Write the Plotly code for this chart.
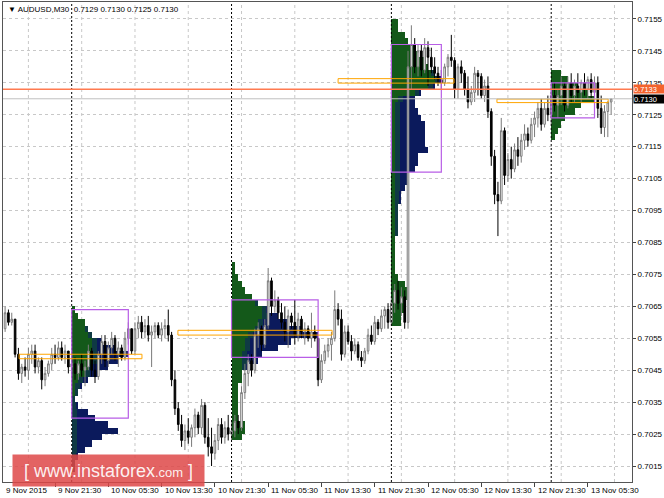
import plotly.graph_objects as go

PIP = 0.0001
FONT = "Liberation Sans, Arial, sans-serif"

# ---------------- price data (pips, x 0.0001), AUDUSD M30 ----------------
# bar index 0 = 10 Nov 2015 00:00; first visible bar is index -20
first_bar = -20
opens = [7058,7063,7060,7061,7050,7044,7046,7045,7050,7051,7046,7048,7042,7044,7047,7050,7049,7052,7049,7051,
         7046,7047,7044,7047,7045,7046,7051,7045,7043,7050,
         7054,7048,7052,7055,7050,7052,7049,7055,7058,7051,
         7058,7060,7057,7059,7056,7057,7059,7056,7058,7059,
         7056,7042,7033,7028,7023,7026,7024,7027,7031,7027,
         7034,7024,7021,7019,7023,7028,7024,7027,7025,7026,
         7029,7027,7038,7044,7048,7045,7056,7058,7053,7059,
         7073,7065,7067,7063,7060,7057,7062,7060,7056,7061,
         7057,7058,7055,7057,7055,7042,7048,7051,7053,7055,
         7064,7061,7050,7057,7054,7051,7053,7049,7048,7051,
         7056,7054,7060,7058,7062,7064,7060,7066,7070,7066,
         7068,7060,7140,7147,7140,7145,7139,7146,7143,7140,
         7138,7136,7135,7140,7143,7142,7133,7140,7138,7133,
         7129,7132,7138,7137,7131,7134,7126,7112,7100,7098,
         7120,7106,7111,7108,7114,7112,7117,7119,7117,7122,
         7124,7127,7122,7127,7125,7131,7128,7131,7134,7128,
         7135,7131,7134,7132,7135,7133,7136,7132,7135,7127,
         7121,7126,7129]
highs = [7065,7064,7063,7061,7052,7047,7049,7052,7053,7053,7049,7049,7046,7048,7052,7053,7054,7054,7053,7051,
         7051,7049,7048,7050,7048,7053,7052,7048,7051,7056,
         7056,7054,7057,7056,7054,7053,7057,7060,7058,7060,
         7062,7062,7061,7062,7059,7060,7060,7060,7061,7064,
         7057,7045,7035,7031,7028,7030,7028,7033,7032,7036,
         7035,7030,7027,7025,7030,7030,7029,7031,7029,7031,
         7031,7040,7047,7050,7050,7058,7060,7059,7061,7077,
         7074,7070,7068,7066,7065,7064,7063,7067,7063,7062,
         7060,7059,7063,7059,7055,7050,7053,7055,7057,7070,
         7066,7064,7059,7059,7056,7055,7054,7051,7052,7058,
         7059,7062,7061,7064,7065,7066,7068,7072,7073,7071,
         7070,7145,7153,7149,7147,7147,7149,7148,7146,7143,
         7140,7139,7141,7144,7150,7143,7141,7142,7139,7137,
         7134,7140,7139,7138,7136,7137,7127,7114,7104,7124,
         7121,7113,7115,7116,7118,7119,7122,7121,7124,7126,
         7129,7130,7129,7131,7134,7135,7133,7137,7135,7137,
         7138,7136,7138,7136,7138,7137,7138,7137,7137,7131,
         7128,7129,7130]
lows = [7057,7059,7059,7049,7042,7041,7043,7042,7047,7044,7044,7039,7040,7043,7045,7047,7048,7048,7047,7044,
        7043,7042,7042,7043,7040,7045,7043,7041,7042,7047,
        7046,7046,7050,7048,7046,7048,7048,7053,7050,7050,
        7055,7055,7055,7054,7046,7055,7055,7054,7055,7054,
        7040,7031,7026,7021,7020,7022,7021,7024,7025,7025,
        7022,7018,7015,7017,7020,7022,7022,7023,7023,7024,
        7025,7026,7036,7040,7043,7044,7052,7051,7052,7058,
        7062,7063,7061,7058,7054,7052,7058,7053,7054,7055,
        7053,7054,7052,7054,7040,7041,7047,7049,7048,7054,
        7059,7048,7049,7053,7048,7050,7048,7046,7047,7050,
        7053,7053,7056,7057,7058,7058,7059,7063,7064,7062,
        7058,7058,7133,7138,7137,7137,7138,7134,7138,7136,
        7134,7133,7134,7137,7140,7130,7130,7135,7131,7127,
        7128,7129,7131,7130,7129,7124,7109,7097,7087,7097,
        7103,7104,7105,7107,7109,7110,7114,7115,7116,7118,
        7121,7120,7121,7123,7122,7126,7124,7128,7126,7127,
        7129,7129,7130,7129,7131,7130,7130,7129,7124,7119,
        7118,7118,7125]
closes = [7063,7060,7061,7050,7044,7046,7045,7050,7051,7046,7048,7042,7044,7047,7050,7049,7052,7049,7051,7046,
          7047,7044,7047,7045,7046,7051,7045,7043,7050,7054,
          7048,7052,7055,7050,7052,7049,7055,7058,7051,7058,
          7060,7057,7059,7056,7057,7059,7056,7058,7059,7056,
          7042,7033,7028,7023,7026,7024,7027,7031,7027,7034,
          7024,7021,7019,7023,7028,7024,7027,7025,7026,7029,
          7027,7038,7044,7048,7045,7056,7058,7053,7059,7073,
          7065,7067,7063,7060,7057,7062,7060,7056,7061,7057,
          7058,7055,7057,7055,7042,7048,7051,7053,7055,7064,
          7061,7050,7057,7054,7051,7053,7049,7048,7051,7056,
          7054,7060,7058,7062,7064,7060,7066,7070,7066,7068,
          7060,7140,7147,7140,7145,7139,7146,7143,7140,7138,
          7136,7135,7140,7143,7142,7133,7140,7138,7133,7129,
          7132,7138,7137,7131,7134,7126,7112,7100,7098,7120,
          7106,7111,7108,7114,7112,7117,7119,7117,7122,7124,
          7127,7122,7127,7125,7131,7128,7131,7134,7128,7135,
          7131,7134,7132,7135,7133,7136,7132,7135,7127,7121,
          7126,7129,7130]
spread_pips = 3

# ---------------- time axis ----------------
x_range = [-20.63, 168.26]
label_index = [-21, -5, 11, 27, 43, 59, 75, 91, 107, 123, 139, 155]
label_text = ["9 Nov 2015", "9 Nov 21:30", "10 Nov 05:30", "10 Nov 13:30", "10 Nov 21:30",
              "11 Nov 05:30", "11 Nov 13:30", "11 Nov 21:30", "12 Nov 05:30", "12 Nov 13:30",
              "12 Nov 21:30", "13 Nov 05:30"]
grid_index = [-13, 3, 19, 35, 51, 67, 83, 99, 115, 131, 147, 163]
day_start_index = [0, 48, 96, 144]
price_ticks = [0.7015, 0.7025, 0.7035, 0.7045, 0.7055, 0.7065, 0.7075, 0.7085,
               0.7095, 0.7105, 0.7115, 0.7125, 0.7135, 0.7145, 0.7155]

# ---------------- daily market profiles (TPO counts, 2-pip rows) ----------------
profile_top = [7064, 7078, 7154, 7138]
row_pips = 2
profile_counts = [
    [1,2,4,5,6,9,13,17,14,11,8,5,3,2,1,2,5,7,11,14,9,6,4,2,1,1],
    [1,1,2,3,4,6,8,11,14,17,21,26,18,14,9,8,5,3,3,2,2,2,2,2,2,4,4,3],
    [2,2,4,5,7,8,10,11,13,15,13,9,7,7,8,9,10,10,10,10,11,8,8,7,5,5,4,3,3,2,
     2,2,2,2,1,1,1,1,1,1,2,4,5,5,4,4,3,3],
    [3,5,8,11,13,9,7,4,3,2,1],
]
profile_early = [
    [1,2,4,4,5,6,6,6,6,5,4,2,1,1,0,0,0,0,0,0,0,0,0,0,0,0],
    [1,1,2,3,4,6,7,9,9,8,7,5,4,4,3,3,3,3,3,2,2,2,2,2,2,4,4,3],
    [2,2,4,5,7,8,10,11,12,13,11,7,2,1,1,1,1,1,1,1,1,1,1,1,1,1,1,1,1,1,
     1,1,1,1,1,1,1,1,1,1,2,4,5,5,4,4,3,3],
    [3,5,8,11,13,9,7,4,3,2,1],
]
value_area = [(0.7030, 0.7064), (0.7049, 0.7067), (0.7107, 0.7147), (0.7124, 0.7135)]
poc_box_x = [(-15.8, 21.1), (31.9, 78.2), (80.0, 114.8), (127.7, 161.1)]
poc_box_y = [(0.70486, 0.70500), (0.70560, 0.70575), (0.71349, 0.71363), (0.71288, 0.71299)]

GREEN = "#14591a"
BLEND = "#0f3a44"
NAVY = "#0b1a5c"
BLEND_W = 1.5

fig = go.Figure()

for p in range(len(profile_top)):
    start = day_start_index[p]
    cnt = profile_counts[p]
    early = profile_early[p]
    levels = [(profile_top[p] - row_pips * k) * PIP for k in range(len(cnt))]
    g = early
    b = [min(BLEND_W, w - e) for w, e in zip(cnt, early)]
    n = [max(0, w - e - BLEND_W) for w, e in zip(cnt, early)]
    common = dict(orientation="h", y=levels, width=row_pips * PIP, hoverinfo="skip",
                  showlegend=False, marker_line_width=0)
    fig.add_trace(go.Bar(x=g, base=[start] * len(cnt), marker_color=GREEN, **common))
    fig.add_trace(go.Bar(x=b, base=[start + e for e in early], marker_color=BLEND, **common))
    fig.add_trace(go.Bar(x=n, base=[start + e + BLEND_W for e in early], marker_color=NAVY, **common))

bar_index = list(range(first_bar, first_bar + len(closes)))
fig.add_trace(go.Candlestick(
    x=bar_index,
    open=[v * PIP for v in opens], high=[v * PIP for v in highs],
    low=[v * PIP for v in lows], close=[v * PIP for v in closes],
    increasing=dict(line=dict(color="#7a7a7a", width=1), fillcolor="#ffffff"),
    decreasing=dict(line=dict(color="#000000", width=1), fillcolor="#000000"),
    whiskerwidth=0, hoverinfo="skip", showlegend=False))

shapes = []
for gi in grid_index:
    shapes.append(dict(type="line", xref="x", yref="paper", x0=gi, x1=gi, y0=0, y1=1,
                       line=dict(color="#c8c8c8", width=1, dash="3px,3px"), layer="below"))
for d in day_start_index:
    shapes.append(dict(type="line", xref="x", yref="paper", x0=d, x1=d, y0=0, y1=1,
                       line=dict(color="#000000", width=1, dash="2px,2px"), layer="above"))
for p, (lo, hi) in enumerate(value_area):
    s = day_start_index[p]
    shapes.append(dict(type="rect", xref="x", yref="y", x0=s, x1=s + max(profile_counts[p]),
                       y0=lo, y1=hi, line=dict(color="#b85ee6", width=1.2), layer="above"))
for (x0, x1), (y0, y1) in zip(poc_box_x, poc_box_y):
    shapes.append(dict(type="rect", xref="x", yref="y", x0=x0, x1=x1, y0=y0, y1=y1,
                       line=dict(color="#ffa500", width=1), layer="above"))
bid = closes[-1] * PIP
ask = (closes[-1] + spread_pips) * PIP
shapes.append(dict(type="line", xref="paper", yref="y", x0=0, x1=1, y0=bid, y1=bid,
                   line=dict(color="#c0c0c0", width=1), layer="above"))
shapes.append(dict(type="line", xref="paper", yref="y", x0=0, x1=1, y0=ask, y1=ask,
                   line=dict(color="#ff7a50", width=1.5), layer="above"))

annotations = []
for xi, t in zip(label_index, label_text):
    annotations.append(dict(x=max(xi, x_range[0]), xref="x", y=0, yref="paper", yshift=-8,
                            xshift=1, text=t, showarrow=False, xanchor="left", yanchor="middle",
                            font=dict(family=FONT, size=8, color="#000000")))
annotations.append(dict(x=1, xref="paper", y=ask, yref="y", xanchor="left", yanchor="middle",
                        xshift=1, yshift=0.5, text="%.4f" % ask, showarrow=False,
                        bgcolor="#f4622c", width=30, height=8, borderpad=0, align="left",
                        font=dict(family=FONT, size=7.5, color="#ffffff")))
annotations.append(dict(x=1, xref="paper", y=bid, yref="y", xanchor="left", yanchor="middle",
                        xshift=1, yshift=-0.5, text="%.4f" % bid, showarrow=False,
                        bgcolor="#000000", width=30, height=8, borderpad=0, align="left",
                        font=dict(family=FONT, size=7.5, color="#ffffff")))
last = "%.4f %.4f %.4f %.4f" % (opens[-1] * PIP, highs[-1] * PIP, lows[-1] * PIP, closes[-1] * PIP)
annotations.append(dict(x=0.004, xref="paper", y=0.985, yref="paper", xanchor="left",
                        yanchor="middle", showarrow=False,
                        text="\u25BC AUDUSD,M30  " + last,
                        font=dict(family=FONT, size=8, color="#000000")))
annotations.append(dict(x=0.1677, xref="paper", y=0.024, yref="paper", xanchor="center",
                        yanchor="middle", showarrow=False, width=189, height=29,
                        bgcolor="rgba(222,72,72,0.85)",
                        text="[ www.instaforex<span style='font-size:13px'>.com</span> ]",
                        font=dict(family=FONT, size=18, color="rgba(255,255,255,0.92)")))

fig.update_layout(
    width=664, height=498,
    margin=dict(l=3, r=32, t=2, b=16, autoexpand=False),
    paper_bgcolor="#ffffff", plot_bgcolor="#ffffff",
    barmode="overlay", bargap=0,
    showlegend=False,
    shapes=shapes, annotations=annotations,
    xaxis=dict(range=x_range, rangeslider=dict(visible=False), showgrid=False,
               zeroline=False, tickvals=label_index, showticklabels=False,
               ticks="outside", ticklen=4, tickcolor="#444444",
               showline=True, mirror=True, linecolor="#555555", linewidth=1),
    yaxis=dict(range=[0.70100, 0.71603], side="right", tickvals=price_ticks,
               ticktext=["%.4f" % v for v in price_ticks], ticks="outside", ticklen=3,
               tickcolor="#444444", tickfont=dict(family=FONT, size=8, color="#000000"),
               showgrid=True, gridcolor="#c8c8c8", griddash="3px,3px", zeroline=False,
               showline=True, mirror=True, linecolor="#555555", linewidth=1,
               automargin=False),
)

fig.write_html("out.html", config={"displayModeBar": False},
               post_script="document.body.style.margin='0';document.body.style.overflow='hidden';")
